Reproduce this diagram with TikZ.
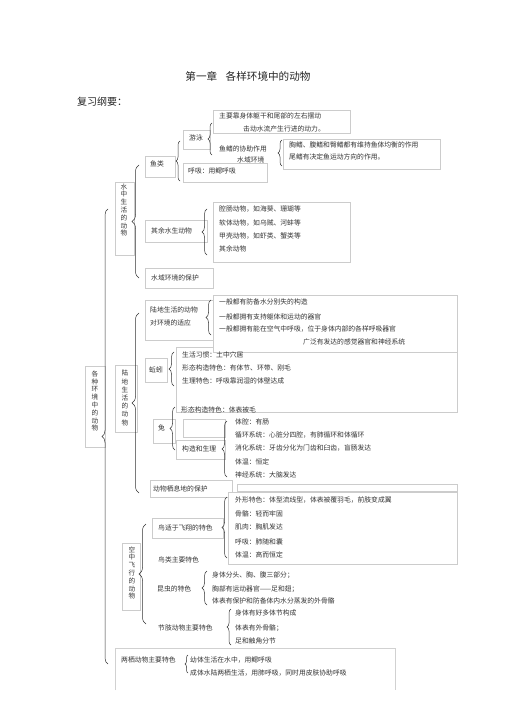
\documentclass[tikz,border=0pt]{standalone}
\usepackage{fontspec}
\setmainfont{Noto Sans CJK SC}
\usetikzlibrary{decorations.pathreplacing}

\begin{document}
\begin{tikzpicture}[x=1pt,y=-1pt,
  txt/.style={anchor=west,inner sep=0pt,text=black!80,font=\fontsize{6.8}{8}\selectfont},
  vtxt/.style={align=center,inner sep=0pt,text=black!80,font=\fontsize{6.6}{7.8}\selectfont},
  box/.style={draw=black!20,line width=0.4pt,fill=white},
  brc/.style={decorate,decoration={brace,amplitude=#1,aspect=0.5},draw=black!80,line width=0.5pt},
  brc/.default=5]
  \useasboundingbox[fill=white] (0,0) rectangle (505,714);
  % Titel
  \node[inner sep=0pt,text=black!85,font=\fontsize{10.6}{12}\selectfont] (title) at (248,76) {第一章\hspace{0.8em}各样环境中的动物};
  \node[inner sep=0pt,anchor=west,text=black!85,font=\fontsize{10}{12}\selectfont] (review) at (77,102) {复习纲要：};

  % Kaders
  \draw[box] (213,110) rectangle (350,133);
  \draw[box] (183,130) rectangle (210,149);
  \draw[box] (183,163) rectangle (267,182);
  \draw[box] (283,139) rectangle (440,169);
  \draw[box] (145,156) rectangle (175,177);
  \draw[box] (115,182) rectangle (134,255);
  \draw[box] (145,220) rectangle (207,242);
  \draw[box] (213,202) rectangle (350,262);
  \draw[box] (145,268) rectangle (213,288);
  \draw[box] (176,347) rectangle (457,412);
  \draw[box] (213,295) rectangle (457,352);
  \draw[box] (145,300) rectangle (213,340);
  \draw[box] (85,366) rectangle (105,447);
  \draw[box] (115,365) rectangle (137,432);
  \draw[box] (145,358) rectangle (167,382);
  \draw[box] (153,419) rectangle (175,443);
  \draw[box] (183,419) rectangle (225,437);
  \draw[box] (176,440) rectangle (225,459);
  \draw[box] (237,484) rectangle (457,491);
  \draw[box] (150,480) rectangle (232,497);
  \draw[box] (228,492) rectangle (457,564);
  \draw[box] (152,518) rectangle (223,538);
  \draw[box] (122,543) rectangle (140,610);
  \draw[black!18,line width=0.4pt] (115,690) -- (115,648) -- (395,648) -- (395,690);

  % Accolades
  \draw[brc=6] (108,664) -- (108,209);
  \draw[brc=7] (139,278) -- (139,165);
  \draw[brc=7] (139,493) -- (139,313);
  \draw[brc=7] (146,624) -- (146,524);
  \draw[brc=4] (212,155) -- (212,123);
  \draw[brc=4] (180,181) -- (180,141);
  \draw[brc=4] (282,166) -- (282,140);
  \draw[brc=5] (207,255) -- (207,209);
  \draw[brc=5] (211,335) -- (211,300);
  \draw[brc=5] (174,386) -- (174,352);
  \draw[brc=5] (175,450) -- (175,407);
  \draw[brc=5] (227,477) -- (227,421);
  \draw[brc=5] (227,558) -- (227,497);
  \draw[brc=5] (207,605) -- (207,571);
  \draw[brc=4] (231,645) -- (231,609);
  \draw[brc=3] (188,673) -- (188,655);

  % Verticale teksten
  \node[vtxt] (water) at (124,210) {水\\中\\生\\活\\的\\动\\物};
  \node[vtxt,font=\fontsize{6.6}{8.2}\selectfont] (land) at (125,398) {陆\\地\\生\\活\\的\\动\\物};
  \node[vtxt] (all) at (95,401) {各\\种\\环\\境\\中\\的\\动\\物};
  \node[vtxt] (air) at (132,573) {空\\中\\飞\\行\\的\\动\\物};

  % Vissen
  \node[txt] (fish) at (150,164) {鱼类};
  \node[txt] (swim) at (189,138) {游泳};
  \node[txt] (swimA) at (219,116) {主要靠身体躯干和尾部的左右摆动};
  \node[txt] (swimB) at (243,129) {击动水流产生行进的动力。};
  \node[txt] (fin) at (219,149) {鱼鳍的协助作用};
  \node[txt] (envw) at (237,160) {水域环境};
  \node[txt] (finA) at (289,145) {胸鳍、腹鳍和臀鳍都有维持鱼体均衡的作用};
  \node[txt] (finB) at (289,157) {尾鳍有决定鱼运动方向的作用。};
  \node[txt] (gill) at (188,171) {呼吸：用鳃呼吸};
  % Overige waterdieren
  \node[txt] (other) at (151,231) {其余水生动物};
  \node[txt] (othA) at (219,209) {腔肠动物，如海葵、珊瑚等};
  \node[txt] (othB) at (219,223) {软体动物，如乌贼、河蚌等};
  \node[txt] (othC) at (219,236) {甲壳动物，如虾类、蟹类等};
  \node[txt] (othD) at (219,249) {其余动物};
  \node[txt] (protw) at (151,278) {水域环境的保护};

  % Landdieren
  \node[txt] (adaptA) at (150,310) {陆地生活的动物};
  \node[txt] (adaptB) at (150,323) {对环境的适应};
  \node[txt] (genA) at (219,302) {一般都有防备水分别失的构造};
  \node[txt] (genB) at (219,317) {一般都拥有支持躯体和运动的器官};
  \node[txt] (genC) at (219,329) {一般都拥有能在空气中呼吸，位于身体内部的各样呼吸器官};
  \node[txt] (genD) at (303,342) {广泛有发达的感觉器官和神经系统};
  \node[txt] (worm) at (149,370) {蚯蚓};
  \node[txt] (wormA) at (182,355) {生活习惯：土中穴居};
  \node[txt] (wormB) at (182,368) {形态构造特色：有体节、环带、刚毛};
  \node[txt] (wormC) at (182,381) {生理特色：呼吸靠润湿的体壁达成};
  \node[txt] (rabbit) at (158,428) {兔};
  \node[txt] (rabA) at (181,410) {形态构造特色：体表被毛};
  \node[txt] (rabB) at (182,449) {构造和生理};
  \node[txt] (rabC) at (235,422) {体腔：有肠};
  \node[txt] (rabD) at (235,435) {循环系统：心脏分四腔，有肺循环和体循环};
  \node[txt] (rabE) at (235,448) {消化系统：牙齿分化为门齿和臼齿，盲肠发达};
  \node[txt] (rabF) at (235,462) {体温：恒定};
  \node[txt] (rabG) at (235,475) {神经系统：大脑发达};
  \node[txt] (habit) at (153,489) {动物栖息地的保护};

  % Vliegende dieren
  \node[txt] (bird) at (158,528) {鸟适于飞翔的特色};
  \node[txt] (birdA) at (235,500) {外形特色：体型流线型，体表被覆羽毛，前肢变成翼};
  \node[txt] (birdB) at (235,514) {骨骼：轻而牢固};
  \node[txt] (birdC) at (235,527) {肌肉：胸肌发达};
  \node[txt] (birdD) at (235,542) {呼吸：肺随和囊};
  \node[txt] (birdE) at (235,555) {体温：高而恒定};
  \node[txt] (birds) at (158,560) {鸟类主要特色};
  \node[txt] (insect) at (157,589) {昆虫的特色};
  \node[txt] (insA) at (212,575) {身体分头、胸、腹三部分；};
  \node[txt] (insB) at (212,589) {胸部有运动器官——足和翅；};
  \node[txt] (insC) at (212,601) {体表有保护和防备体内水分蒸发的外骨骼};
  \node[txt] (arth) at (158,628) {节肢动物主要特色};
  \node[txt] (arthA) at (235,613) {身体有好多体节构成};
  \node[txt] (arthB) at (235,628) {体表有外骨骼；};
  \node[txt] (arthC) at (235,641) {足和触角分节};

  % Amfibieen
  \node[txt] (amph) at (121,660) {两栖动物主要特色};
  \node[txt] (amphA) at (190,660) {幼体生活在水中，用鳃呼吸};
  \node[txt] (amphB) at (190,673) {成体水陆两栖生活，用肺呼吸，同时用皮肤协助呼吸};
\end{tikzpicture}
\end{document}
